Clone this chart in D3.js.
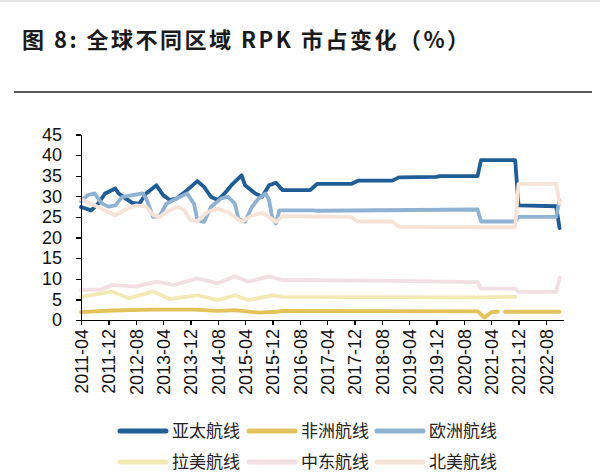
<!DOCTYPE html>
<meta charset="utf-8">
<style>
body { margin: 0; background: #fff; }
svg { display: block; font-family: "Liberation Sans", Arial, sans-serif; }
.axis path, .axis line { stroke: #000; stroke-width: 1.3; shape-rendering: crispEdges; }
.axis text { font-size: 18px; fill: #111; font-family: "Liberation Sans", Arial, sans-serif; }
.title { font: bold 22px "Noto Sans CJK SC", sans-serif; fill: #1a1a1a; letter-spacing: 2.5px; }
.legend text { font: 17px "Noto Sans CJK SC", sans-serif; fill: #222; }
</style>
<svg width="600" height="476" id="chart"></svg>
<script src="https://d3js.org/d3.v7.min.js"></script>
<script>
// values, % share of RPK
var apacDates = ["2011-04","2011-07","2011-09","2011-11","2012-02","2012-03","2012-05","2012-07","2012-09","2012-11","2013-02","2013-04","2013-06","2013-08","2013-11","2014-02","2014-04","2014-06","2014-08","2014-10","2014-12","2015-03","2015-04","2015-07","2015-09","2015-11","2016-01","2016-03","2016-11","2017-01","2017-11","2018-01","2018-11","2019-01","2019-12","2020-01","2020-12","2021-01","2021-11","2021-12","2022-11","2022-12"];
var apacValues = [27.4,26.6,28.2,30.7,31.9,30.7,29.5,28.4,28.2,30.7,32.7,30.3,29.1,29.5,31.5,33.7,32.3,29.9,29.1,30.7,32.7,35.1,32.7,30.7,29.9,32.7,33.3,31.5,31.5,33.0,33.0,33.8,33.8,34.6,34.7,34.9,34.9,38.8,38.8,27.8,27.6,22.3];

var africaDates = ["2011-04","2012-01","2013-01","2014-01","2014-08","2015-01","2015-08","2016-01","2016-03","2020-12","2021-02","2021-04","2021-06","2021-07","2021-08","2022-12"];
var africaValues = [1.9,2.3,2.5,2.5,2.2,2.4,1.8,2.0,2.2,2.1,0.6,1.9,2.0,null,2.0,2.0];

var europeDates = ["2011-04","2011-06","2011-08","2011-10","2011-12","2012-02","2012-04","2012-07","2012-10","2012-11","2012-12","2013-01","2013-03","2013-05","2013-08","2013-11","2014-01","2014-02","2014-04","2014-06","2014-09","2014-11","2015-01","2015-02","2015-04","2015-06","2015-08","2015-10","2015-11","2015-12","2016-01","2016-02","2016-12","2017-01","2020-12","2021-01","2021-11","2021-12","2022-11","2022-12"];
var europeValues = [28.8,30.3,30.7,28.3,27.5,27.8,29.8,30.3,30.7,29.5,27.4,25.0,25.2,28.2,29.5,30.7,28.2,24.2,23.8,27.4,29.5,29.9,28.2,24.6,23.8,27.4,29.5,30.7,29.1,24.6,23.4,26.6,26.6,26.5,26.8,23.9,23.9,25.0,25.0,29.0];

var latamDates = ["2011-04","2012-01","2012-06","2013-01","2013-06","2014-02","2014-08","2015-01","2015-05","2015-12","2016-03","2020-12","2021-11"];
var latamValues = [5.6,6.9,5.3,6.9,5.1,6.0,4.8,6.0,4.8,6.0,5.6,5.5,5.6];

var mideastDates = ["2011-04","2011-10","2012-01","2012-08","2013-02","2013-07","2014-02","2014-08","2015-01","2015-05","2015-11","2016-03","2018-12","2020-12","2021-01","2021-11","2021-12","2022-11","2022-12"];
var mideastValues = [7.3,7.4,8.5,8.1,9.3,8.5,10.1,8.9,10.6,9.3,10.6,9.7,9.5,9.2,7.6,7.6,6.8,6.8,10.2];

var namDates = ["2011-04","2011-07","2011-10","2011-12","2012-02","2012-05","2012-08","2012-11","2013-01","2013-03","2013-05","2013-08","2013-10","2013-12","2014-02","2014-05","2014-08","2014-11","2015-01","2015-03","2015-06","2015-09","2015-11","2016-01","2016-03","2017-11","2018-01","2018-11","2019-01","2020-12","2021-11","2021-12","2022-11","2022-12"];
var namValues = [29.3,28.2,27.0,26.2,25.4,26.8,27.8,27.5,25.5,25.0,26.2,27.4,26.8,24.2,24.0,26.2,27.0,26.2,25.0,23.8,25.3,26.0,25.0,23.8,25.2,25.0,23.9,23.9,22.6,22.5,22.5,33.0,33.0,28.3];

var seriesNames = ["亚太航线","非洲航线","欧洲航线","拉美航线","中东航线","北美航线"];
var seriesColors = ["#1f5d96","#e3c25c","#8fb2d2","#f3e9b4","#f1dfe3","#f7e2d7"];

var xTicks = ["2011-04","2011-12","2012-08","2013-04","2013-12","2014-08","2015-04","2015-12","2016-08","2017-04","2017-12","2018-08","2019-04","2019-12","2020-08","2021-04","2021-12","2022-08"];
var yTicks = [0,5,10,15,20,25,30,35,40,45];

var parse = d3.timeParse("%Y-%m");

var raw = [
  [apacDates, apacValues],
  [africaDates, africaValues],
  [europeDates, europeValues],
  [latamDates, latamValues],
  [mideastDates, mideastValues],
  [namDates, namValues]
];
var series = raw.map(function(r, i) {
  return {
    name: seriesNames[i],
    color: seriesColors[i],
    points: r[0].map(function(d, j) { return {date: parse(d), v: r[1][j]}; })
  };
});

var svg = d3.select("#chart");

svg.append("rect").attr("x", 0).attr("y", 0).attr("width", 600).attr("height", 2).attr("fill", "#e2e2e2");

svg.append("text")
    .attr("class", "title")
    .attr("x", 22)
    .attr("y", 48)
    .text("图 8: 全球不同区域 RPK 市占变化（%）");

svg.append("line")
    .attr("x1", 14).attr("x2", 592)
    .attr("y1", 92).attr("y2", 92)
    .attr("stroke", "#222")
    .attr("stroke-width", 1.6);

var x = d3.scaleTime()
    .domain([parse("2011-04"), parse("2023-01")])
    .range([81, 563]);

var y = d3.scaleLinear()
    .domain([0, 45])
    .range([320, 134.5]);

var line = d3.line()
    .defined(function(d) { return d.v != null; })
    .x(function(d) { return x(d.date); })
    .y(function(d) { return y(d.v); });

svg.append("g")
  .selectAll("path")
  .data(series)
  .enter().append("path")
    .attr("fill", "none")
    .attr("stroke", function(d) { return d.color; })
    .attr("stroke-width", 3.8)
    .attr("stroke-linejoin", "round")
    .attr("stroke-linecap", "round")
    .attr("d", function(d) { return line(d.points); });

var xAxis = svg.append("g")
    .attr("class", "axis")
    .attr("transform", "translate(0,320)")
    .call(d3.axisBottom(x)
      .tickValues(xTicks.map(parse))
      .tickFormat(d3.timeFormat("%Y-%m"))
      .tickSize(5)
      .tickSizeOuter(0));
xAxis.selectAll("text")
    .attr("transform", "rotate(-90)")
    .attr("text-anchor", "end")
    .attr("x", -9)
    .attr("y", 0)
    .attr("dy", "0.35em");

svg.append("g")
    .attr("class", "axis")
    .attr("transform", "translate(81,0)")
    .call(d3.axisLeft(y)
      .tickValues(yTicks)
      .tickSize(5)
      .tickPadding(14)
      .tickSizeOuter(0));

// legend, 3 per row
var legend = svg.append("g").attr("class", "legend");
var colX = [120, 249, 377], rowY = [431, 462];
series.forEach(function(s, i) {
  var lx = colX[i % 3], ly = rowY[Math.floor(i / 3)];
  legend.append("line")
      .attr("x1", lx).attr("x2", lx + 46)
      .attr("y1", ly).attr("y2", ly)
      .attr("stroke", s.color)
      .attr("stroke-width", 5)
      .attr("stroke-linecap", "round");
  legend.append("text")
      .attr("x", lx + 52)
      .attr("y", ly)
      .attr("dy", "0.35em")
      .text(s.name);
});
</script>
